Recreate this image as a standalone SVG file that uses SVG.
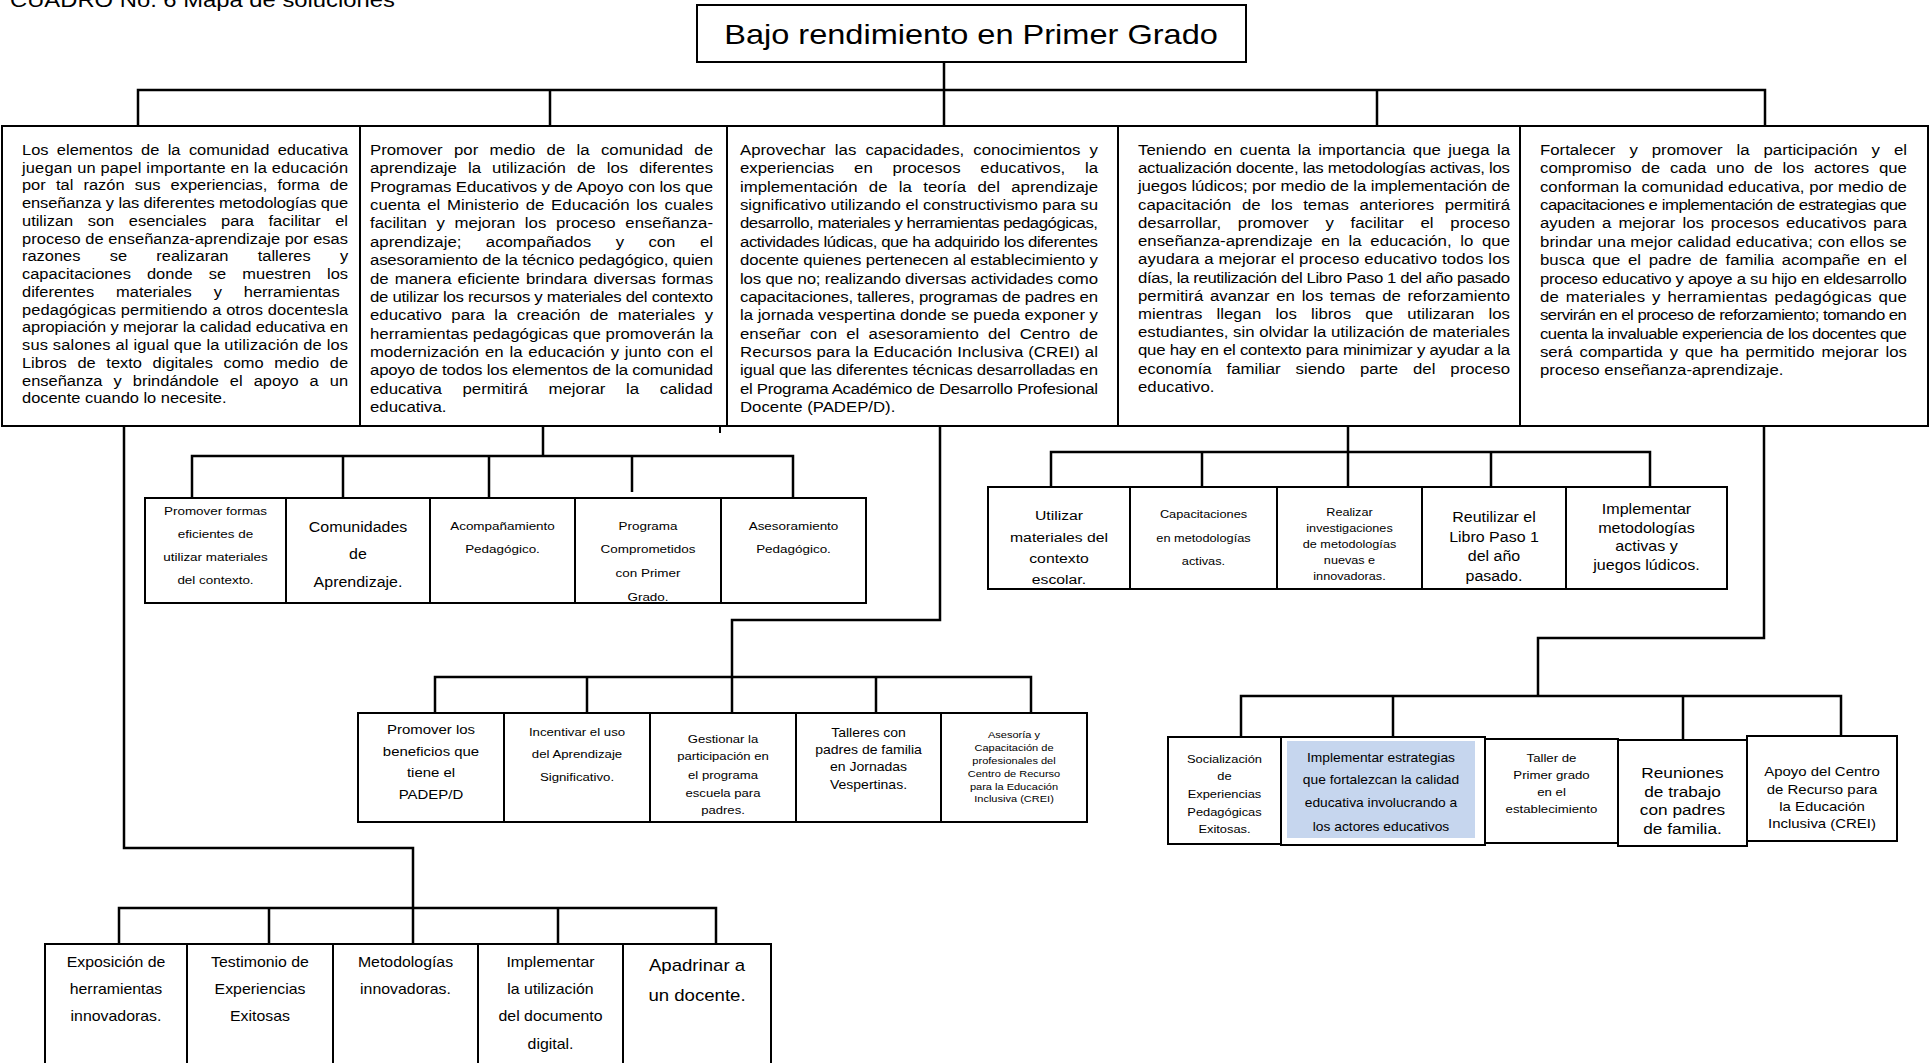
<svg xmlns="http://www.w3.org/2000/svg" width="1932" height="1063" viewBox="0 0 1932 1063">
<style>
.box{fill:#fff;stroke:#000;stroke-width:2}
.con{fill:none;stroke:#000;stroke-width:2.5}
text{font-family:"Liberation Sans",Arial,sans-serif;fill:#000}
.m{text-anchor:middle}
</style>
<rect width="1932" height="1063" fill="#fff"/>
<g id="caption" transform="translate(10,0) scale(1.15,1)"><text x="0" y="7" font-size="20.7">CUADRO No. 6 Mapa de soluciones</text></g>

<g id="connectors" class="con">
<path d="M944 62V125M138 125V90H1765V125M550 90V125M1377 90V125"/>
<path d="M543 427V456M192 498V456H793V498M343 456V498M489 456V498M632 456V492"/>
<path d="M1348 427V487M1051 487V452H1650V487M1202 452V487M1491 452V487"/>
<path d="M940 427V620H732V713M435 713V677H1031V713M587 677V713M876 677V713"/>
<path d="M1764 427V638H1538V696M1241 737V696H1841V736M1393 696V737M1683 696V740"/>
<path d="M124 427V848H413V944M119 944V908H716V944M269 908V944M558 908V944"/>
<path d="M720 427V433M1528 420V427" stroke-width="2"/>
</g>

<g id="root">
<rect class="box" x="697" y="5" width="549" height="57"/>
<g transform="translate(971,0) scale(1.15,1)"><text class="m" x="0" y="44" font-size="28.3">Bajo rendimiento en Primer Grado</text></g>
</g>

<g id="sol1">
<rect class="box" x="2" y="126" width="358" height="300"/>
<g transform="translate(22,0) scale(1.15,1)" font-size="14.3">
<text x="0" y="155" word-spacing="3.3" textLength="283.5" lengthAdjust="spacing">Los elementos de la comunidad educativa</text>
<text x="0" y="172.75" textLength="283.5" lengthAdjust="spacing">juegan un papel importante en la educación</text>
<text x="0" y="190.5" word-spacing="4.9" textLength="283.5" lengthAdjust="spacing">por tal razón sus experiencias, forma de</text>
<text x="0" y="208.25" textLength="283.5" lengthAdjust="spacing">enseñanza y las diferentes metodologías que</text>
<text x="0" y="226" word-spacing="8.7" textLength="283.5" lengthAdjust="spacing">utilizan son esenciales para facilitar el</text>
<text x="0" y="243.75" textLength="283.5" lengthAdjust="spacing">proceso de enseñanza-aprendizaje por esas</text>
<text y="261.5"><tspan x="0">razones</tspan><tspan x="76.3">se</tspan><tspan x="116.8">realizaran</tspan><tspan x="205">talleres</tspan><tspan x="276.5">y</tspan></text>
<text x="0" y="279.25" word-spacing="10" textLength="283.5" lengthAdjust="spacing">capacitaciones donde se muestren los</text>
<text y="297"><tspan x="0">diferentes</tspan><tspan x="81.8">materiales</tspan><tspan x="166.8">y</tspan><tspan x="192.9">herramientas</tspan></text>
<text x="0" y="314.75" textLength="283.5" lengthAdjust="spacing">pedagógicas permitiendo a otros docentesla</text>
<text x="0" y="332.5" textLength="283.5" lengthAdjust="spacing">apropiación y mejorar la calidad educativa en</text>
<text x="0" y="350.25" textLength="283.5" lengthAdjust="spacing">sus salones al igual que la utilización de los</text>
<text x="0" y="368" word-spacing="5.3" textLength="283.5" lengthAdjust="spacing">Libros de texto digitales como medio de</text>
<text x="0" y="385.75" word-spacing="5.6" textLength="283.5" lengthAdjust="spacing">enseñanza y brindándole el apoyo a un</text>
<text x="0" y="403.5">docente cuando lo necesite.</text>
</g>
</g>

<g id="sol2">
<rect class="box" x="360" y="126" width="367" height="300"/>
<g transform="translate(370,0) scale(1.15,1)" font-size="14.6">
<text x="0" y="155" word-spacing="5.8" textLength="298.3" lengthAdjust="spacing">Promover por medio de la comunidad de</text>
<text x="0" y="173.36" word-spacing="5.6" textLength="298.3" lengthAdjust="spacing">aprendizaje la utilización de los diferentes</text>
<text x="0" y="191.72" textLength="298.3" lengthAdjust="spacing">Programas Educativos y de Apoyo con los que</text>
<text x="0" y="210.08" word-spacing="1.8" textLength="298.3" lengthAdjust="spacing">cuenta el Ministerio de Educación los cuales</text>
<text x="0" y="228.44" word-spacing="4.3" textLength="298.3" lengthAdjust="spacing">facilitan y mejoran los proceso enseñanza-</text>
<text y="246.8"><tspan x="0">aprendizaje;</tspan><tspan x="100.7">acompañados</tspan><tspan x="213.6">y</tspan><tspan x="242.1">con</tspan><tspan x="286.9">el</tspan></text>
<text x="0" y="265.16" textLength="298.3" lengthAdjust="spacing">asesoramiento de la técnico pedagógico, quien</text>
<text x="0" y="283.52" word-spacing="1.3" textLength="298.3" lengthAdjust="spacing">de manera eficiente brindara diversas formas</text>
<text x="0" y="301.88" textLength="298.3" lengthAdjust="spacing">de utilizar los recursos y materiales del contexto</text>
<text x="0" y="320.24" word-spacing="4.1" textLength="298.3" lengthAdjust="spacing">educativo para la creación de materiales y</text>
<text x="0" y="338.6" textLength="298.3" lengthAdjust="spacing">herramientas pedagógicas que promoverán la</text>
<text x="0" y="356.96" word-spacing="1" textLength="298.3" lengthAdjust="spacing">modernización en la educación y junto con el</text>
<text x="0" y="375.32" textLength="298.3" lengthAdjust="spacing">apoyo de todos los elementos de la comunidad</text>
<text y="393.68"><tspan x="0">educativa</tspan><tspan x="80.45">permitirá</tspan><tspan x="155.2">mejorar</tspan><tspan x="222.6">la</tspan><tspan x="251.9">calidad</tspan></text>
<text x="0" y="412.04">educativa.</text>
</g>
</g>

<g id="sol3">
<rect class="box" x="727" y="126" width="391" height="300"/>
<g transform="translate(740,0) scale(1.15,1)" font-size="14.6">
<text x="0" y="155" word-spacing="3.9" textLength="311.3" lengthAdjust="spacing">Aprovechar las capacidades, conocimientos y</text>
<text y="173.36"><tspan x="0">experiencias</tspan><tspan x="99.2">en</tspan><tspan x="132.6">procesos</tspan><tspan x="209">educativos,</tspan><tspan x="300">la</tspan></text>
<text x="0" y="191.72" word-spacing="5.8" textLength="311.3" lengthAdjust="spacing">implementación de la teoría del aprendizaje</text>
<text x="0" y="210.08" textLength="311.3" lengthAdjust="spacing">significativo utilizando el constructivismo para su</text>
<text x="0" y="228.44" textLength="311.3" lengthAdjust="spacing">desarrollo, materiales y herramientas pedagógicas,</text>
<text x="0" y="246.8" textLength="311.3" lengthAdjust="spacing">actividades lúdicas, que ha adquirido los diferentes</text>
<text x="0" y="265.16" textLength="311.3" lengthAdjust="spacing">docente quienes pertenecen al establecimiento y</text>
<text x="0" y="283.52" textLength="311.3" lengthAdjust="spacing">los que no; realizando diversas actividades como</text>
<text x="0" y="301.88" textLength="311.3" lengthAdjust="spacing">capacitaciones, talleres, programas de padres en</text>
<text x="0" y="320.24" textLength="311.3" lengthAdjust="spacing">la jornada vespertina donde se pueda exponer y</text>
<text x="0" y="338.6" word-spacing="4" textLength="311.3" lengthAdjust="spacing">enseñar con el asesoramiento del Centro de</text>
<text x="0" y="356.96" textLength="311.3" lengthAdjust="spacing">Recursos para la Educación Inclusiva (CREI) al</text>
<text x="0" y="375.32" textLength="311.3" lengthAdjust="spacing">igual que las diferentes técnicas desarrolladas en</text>
<text x="0" y="393.68" textLength="311.3" lengthAdjust="spacing">el Programa Académico de Desarrollo Profesional</text>
<text x="0" y="412.04">Docente (PADEP/D).</text>
</g>
</g>

<g id="sol4">
<rect class="box" x="1118" y="126" width="402" height="300"/>
<g transform="translate(1138,0) scale(1.15,1)" font-size="14.6">
<text x="0" y="155" word-spacing="2.3" textLength="323.5" lengthAdjust="spacing">Teniendo en cuenta la importancia que juega la</text>
<text x="0" y="173.2" textLength="323.5" lengthAdjust="spacing">actualización docente, las metodologías activas, los</text>
<text x="0" y="191.5" textLength="323.5" lengthAdjust="spacing">juegos lúdicos; por medio de la implementación de</text>
<text x="0" y="209.7" word-spacing="5.1" textLength="323.5" lengthAdjust="spacing">capacitación de los temas anteriores permitirá</text>
<text x="0" y="227.9" word-spacing="10.5" textLength="323.5" lengthAdjust="spacing">desarrollar, promover y facilitar el proceso</text>
<text x="0" y="246.2" word-spacing="3.5" textLength="323.5" lengthAdjust="spacing">enseñanza-aprendizaje en la educación, lo que</text>
<text x="0" y="264.4" textLength="323.5" lengthAdjust="spacing">ayudara a mejorar el proceso educativo todos los</text>
<text x="0" y="282.6" textLength="323.5" lengthAdjust="spacing">días, la reutilización del Libro Paso 1 del año pasado</text>
<text x="0" y="300.8" word-spacing="1.8" textLength="323.5" lengthAdjust="spacing">permitirá avanzar en los temas de reforzamiento</text>
<text x="0" y="319.1" word-spacing="8.2" textLength="323.5" lengthAdjust="spacing">mientras llegan los libros que utilizaran los</text>
<text x="0" y="337.3" textLength="323.5" lengthAdjust="spacing">estudiantes, sin olvidar la utilización de materiales</text>
<text x="0" y="355.5" textLength="323.5" lengthAdjust="spacing">que hay en el contexto para minimizar y ayudar a la</text>
<text x="0" y="373.8" word-spacing="8.9" textLength="323.5" lengthAdjust="spacing">economía familiar siendo parte del proceso</text>
<text x="0" y="392">educativo.</text>
</g>
</g>

<g id="sol5">
<rect class="box" x="1520" y="126" width="408" height="300"/>
<g transform="translate(1540,0) scale(1.15,1)" font-size="14.6">
<text x="0" y="155" word-spacing="8.1" textLength="319.1" lengthAdjust="spacing">Fortalecer y promover la participación y el</text>
<text x="0" y="173.4" word-spacing="4.5" textLength="319.1" lengthAdjust="spacing">compromiso de cada uno de los actores que</text>
<text x="0" y="191.8" textLength="319.1" lengthAdjust="spacing">conforman la comunidad educativa, por medio de</text>
<text x="0" y="210.1" textLength="319.1" lengthAdjust="spacing">capacitaciones e implementación de estrategias que</text>
<text x="0" y="228.5" word-spacing="2" textLength="319.1" lengthAdjust="spacing">ayuden a mejorar los procesos educativos para</text>
<text x="0" y="246.9" textLength="319.1" lengthAdjust="spacing">brindar una mejor calidad educativa; con ellos se</text>
<text x="0" y="265.3" word-spacing="2.6" textLength="319.1" lengthAdjust="spacing">busca que el padre de familia acompañe en el</text>
<text x="0" y="283.6" textLength="319.1" lengthAdjust="spacing">proceso educativo y apoye a su hijo en eldesarrollo</text>
<text x="0" y="302" word-spacing="1.7" textLength="319.1" lengthAdjust="spacing">de materiales y herramientas pedagógicas que</text>
<text x="0" y="320.4" textLength="319.1" lengthAdjust="spacing">servirán en el proceso de reforzamiento; tomando en</text>
<text x="0" y="338.8" textLength="319.1" lengthAdjust="spacing">cuenta la invaluable experiencia de los docentes que</text>
<text x="0" y="357.1" word-spacing="2" textLength="319.1" lengthAdjust="spacing">será compartida y que ha permitido mejorar los</text>
<text x="0" y="375.5">proceso enseñanza-aprendizaje.</text>
</g>
</g>

<g id="a1"><rect class="box" x="145" y="498" width="141" height="105"/>
<g transform="translate(215.5,0) scale(1.15,1)" font-size="11.7" class="m"><text x="0" y="515">Promover formas</text><text x="0" y="538">eficientes de</text><text x="0" y="561">utilizar materiales</text><text x="0" y="584">del contexto.</text></g></g>
<g id="a2"><rect class="box" x="286" y="498" width="144" height="105"/>
<g transform="translate(358,0) scale(1.15,1)" font-size="13.9" class="m"><text x="0" y="532">Comunidades</text><text x="0" y="559">de</text><text x="0" y="587">Aprendizaje.</text></g></g>
<g id="a3"><rect class="box" x="430" y="498" width="145" height="105"/>
<g transform="translate(502.5,0) scale(1.15,1)" font-size="11.7" class="m"><text x="0" y="530">Acompañamiento</text><text x="0" y="553">Pedagógico.</text></g></g>
<g id="a4"><rect class="box" x="575" y="498" width="146" height="105"/>
<g transform="translate(648,0) scale(1.15,1)" font-size="11.7" class="m"><text x="0" y="530">Programa</text><text x="0" y="553">Comprometidos</text><text x="0" y="577">con Primer</text><text x="0" y="601">Grado.</text></g></g>
<g id="a5"><rect class="box" x="721" y="498" width="145" height="105"/>
<g transform="translate(793.5,0) scale(1.15,1)" font-size="11.7" class="m"><text x="0" y="530">Asesoramiento</text><text x="0" y="553">Pedagógico.</text></g></g>

<g id="b1"><rect class="box" x="988" y="487" width="142" height="102"/>
<g transform="translate(1059,0) scale(1.15,1)" font-size="13.7" class="m"><text x="0" y="520">Utilizar</text><text x="0" y="542">materiales del</text><text x="0" y="563">contexto</text><text x="0" y="584">escolar.</text></g></g>
<g id="b2"><rect class="box" x="1130" y="487" width="147" height="102"/>
<g transform="translate(1203.5,0) scale(1.15,1)" font-size="11.1" class="m"><text x="0" y="518">Capacitaciones</text><text x="0" y="542">en metodologías</text><text x="0" y="565">activas.</text></g></g>
<g id="b3"><rect class="box" x="1277" y="487" width="145" height="102"/>
<g transform="translate(1349.5,0) scale(1.15,1)" font-size="11" class="m"><text x="0" y="516">Realizar</text><text x="0" y="532">investigaciones</text><text x="0" y="548">de metodologías</text><text x="0" y="564">nuevas e</text><text x="0" y="580">innovadoras.</text></g></g>
<g id="b4"><rect class="box" x="1422" y="487" width="144" height="102"/>
<g transform="translate(1494,0) scale(1.15,1)" font-size="13.9" class="m"><text x="0" y="522">Reutilizar el</text><text x="0" y="542">Libro Paso 1</text><text x="0" y="561">del año</text><text x="0" y="581">pasado.</text></g></g>
<g id="b5"><rect class="box" x="1566" y="487" width="161" height="102"/>
<g transform="translate(1646.5,0) scale(1.15,1)" font-size="14" class="m"><text x="0" y="514">Implementar</text><text x="0" y="533">metodologías</text><text x="0" y="551">activas y</text><text x="0" y="570">juegos lúdicos.</text></g></g>

<g id="c1"><rect class="box" x="358" y="713" width="146" height="109"/>
<g transform="translate(431,0) scale(1.15,1)" font-size="13" class="m"><text x="0" y="734">Promover los</text><text x="0" y="756">beneficios que</text><text x="0" y="777">tiene el</text><text x="0" y="799">PADEP/D</text></g></g>
<g id="c2"><rect class="box" x="504" y="713" width="146" height="109"/>
<g transform="translate(577,0) scale(1.15,1)" font-size="11.5" class="m"><text x="0" y="736">Incentivar el uso</text><text x="0" y="758">del Aprendizaje</text><text x="0" y="781">Significativo.</text></g></g>
<g id="c3"><rect class="box" x="650" y="713" width="146" height="109"/>
<g transform="translate(723,0) scale(1.15,1)" font-size="11.4" class="m"><text x="0" y="743">Gestionar la</text><text x="0" y="760">participación en</text><text x="0" y="779">el programa</text><text x="0" y="797">escuela para</text><text x="0" y="814">padres.</text></g></g>
<g id="c4"><rect class="box" x="796" y="713" width="145" height="109"/>
<g transform="translate(868.5,0) scale(1.15,1)" font-size="12.2" class="m"><text x="0" y="737">Talleres con</text><text x="0" y="754">padres de familia</text><text x="0" y="771">en Jornadas</text><text x="0" y="789">Vespertinas.</text></g></g>
<g id="c5"><rect class="box" x="941" y="713" width="146" height="109"/>
<g transform="translate(1014,0) scale(1.15,1)" font-size="9.6" class="m"><text x="0" y="738">Asesoría y</text><text x="0" y="751">Capacitación de</text><text x="0" y="764">profesionales del</text><text x="0" y="777">Centro de Recurso</text><text x="0" y="790">para la Educación</text><text x="0" y="802">Inclusiva  (CREI)</text></g></g>

<g id="d1"><rect class="box" x="1168" y="737" width="113" height="107"/>
<g transform="translate(1224.5,0) scale(1.15,1)" font-size="11.2" class="m"><text x="0" y="763">Socialización</text><text x="0" y="780">de</text><text x="0" y="798">Experiencias</text><text x="0" y="816">Pedagógicas</text><text x="0" y="833">Exitosas.</text></g></g>
<g id="d2"><rect class="box" x="1281" y="737" width="204" height="108"/>
<rect x="1287" y="741" width="188" height="97" fill="#c6d6ee"/>
<g transform="translate(1381,0) scale(1.15,1)" font-size="12" class="m"><text x="0" y="762">Implementar estrategias</text><text x="0" y="784">que fortalezcan la calidad</text><text x="0" y="807">educativa involucrando a</text><text x="0" y="831">los actores educativos</text></g></g>
<g id="d3"><rect class="box" x="1485" y="739" width="133" height="104"/>
<g transform="translate(1551.5,0) scale(1.15,1)" font-size="11.5" class="m"><text x="0" y="762">Taller de</text><text x="0" y="779">Primer grado</text><text x="0" y="796">en el</text><text x="0" y="813">establecimiento</text></g></g>
<g id="d4"><rect class="box" x="1618" y="740" width="129" height="106"/>
<g transform="translate(1682.5,0) scale(1.15,1)" font-size="15" class="m"><text x="0" y="778">Reuniones</text><text x="0" y="797">de trabajo</text><text x="0" y="815">con padres</text><text x="0" y="834">de familia.</text></g></g>
<g id="d5"><rect class="box" x="1747" y="736" width="150" height="105"/>
<g transform="translate(1822,0) scale(1.15,1)" font-size="13" class="m"><text x="0" y="776">Apoyo del Centro</text><text x="0" y="794">de Recurso para</text><text x="0" y="811">la Educación</text><text x="0" y="828">Inclusiva  (CREI)</text></g></g>

<g id="e1"><rect class="box" x="45" y="944" width="142" height="125"/>
<g transform="translate(116,0) scale(1.15,1)" font-size="13.8" class="m"><text x="0" y="967">Exposición de</text><text x="0" y="994">herramientas</text><text x="0" y="1021">innovadoras.</text></g></g>
<g id="e2"><rect class="box" x="187" y="944" width="146" height="125"/>
<g transform="translate(260,0) scale(1.15,1)" font-size="13.8" class="m"><text x="0" y="967">Testimonio de</text><text x="0" y="994">Experiencias</text><text x="0" y="1021">Exitosas</text></g></g>
<g id="e3"><rect class="box" x="333" y="944" width="145" height="125"/>
<g transform="translate(405.5,0) scale(1.15,1)" font-size="13.8" class="m"><text x="0" y="967">Metodologías</text><text x="0" y="994">innovadoras.</text></g></g>
<g id="e4"><rect class="box" x="478" y="944" width="145" height="125"/>
<g transform="translate(550.5,0) scale(1.15,1)" font-size="13.8" class="m"><text x="0" y="967">Implementar</text><text x="0" y="994">la utilización</text><text x="0" y="1021">del documento</text><text x="0" y="1049">digital.</text></g></g>
<g id="e5"><rect class="box" x="623" y="944" width="148" height="125"/>
<g transform="translate(697,0) scale(1.15,1)" font-size="16.2" class="m"><text x="0" y="971">Apadrinar a</text><text x="0" y="1001">un docente.</text></g></g>
</svg>
